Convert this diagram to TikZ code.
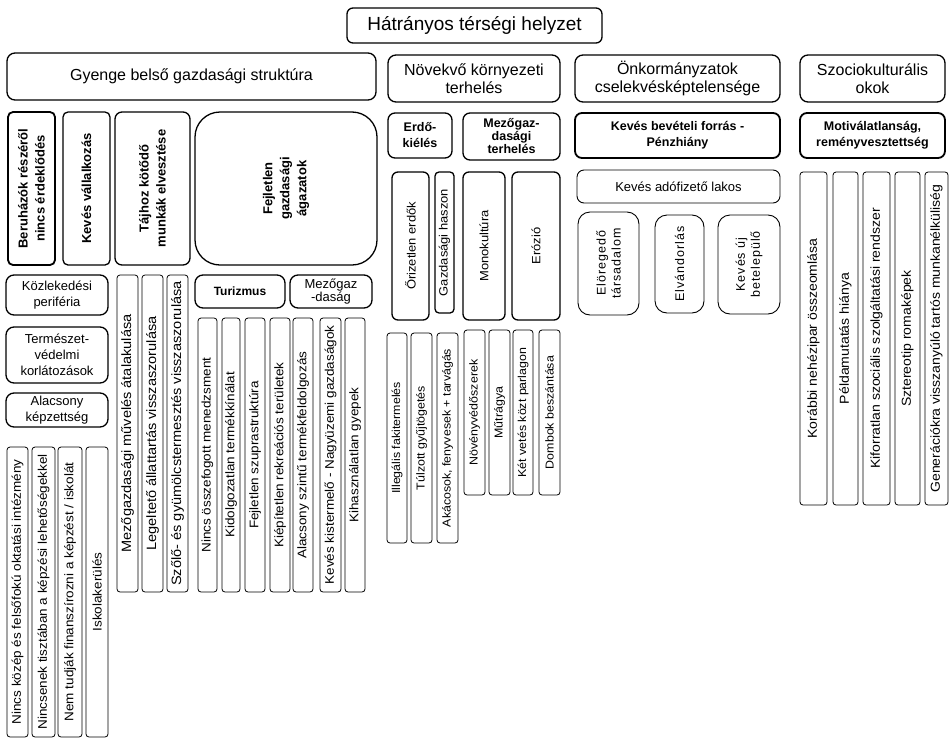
\documentclass[tikz,border=0pt]{standalone}
\usepackage{fontspec}
\setmainfont{Liberation Sans}
\newfontfamily\narrowfont[FakeStretch=1.08]{Liberation Sans}
\newfontfamily\spacedfont[LetterSpace=8]{Liberation Sans}
\usepackage{tikz}

\begin{document}
\begin{tikzpicture}[x=1pt,y=-1pt,
	titlebox/.style={draw,rounded corners=6pt,line width=1.3pt,inner sep=2pt,font=\fontsize{19}{22}\selectfont},
	headbox/.style={draw,rounded corners=8pt,line width=1.3pt,inner sep=2pt,align=center,font=\fontsize{16}{18}\selectfont},
	causebox/.style={draw,rounded corners=7pt,line width=1.8pt,inner sep=2pt,align=center,font=\fontsize{12.5}{16}\selectfont\bfseries},
	vcause/.style={causebox,rotate=90,font=\fontsize{13}{17}\selectfont\bfseries},
	sidebox/.style={draw,rounded corners=8pt,line width=1.3pt,inner sep=2pt,align=center,font=\fontsize{13}{16}\selectfont},
	midbox/.style={draw,rounded corners=6pt,line width=1.3pt,inner sep=1pt,rotate=90,font=\narrowfont\fontsize{12}{14}\selectfont},
	stripbox/.style={draw,rounded corners=3pt,line width=0.8pt,inner sep=1pt,rotate=90,font=\narrowfont\fontsize{12.5}{14}\selectfont},
	softbox/.style={draw,rounded corners=12pt,line width=0.9pt,inner sep=2pt,align=center,rotate=90,font=\spacedfont\fontsize{12.5}{15}\selectfont}]
		\useasboundingbox (0,0) rectangle (950,739);
		\node[titlebox,minimum width=255pt,minimum height=35pt] (hatranyos) at (474.5,25.5) {Hátrányos térségi helyzet};
		\node[headbox,minimum width=369pt,minimum height=47pt] (gyenge) at (191.5,76.5) {Gyenge belső gazdasági struktúra};
		\node[headbox,minimum width=172pt,minimum height=47pt] (novekvo) at (474,78.5) {Növekvő környezeti\\terhelés};
		\node[headbox,minimum width=205pt,minimum height=47pt] (onkorm) at (677.5,78.5) {Önkormányzatok\\cselekvésképtelensége};
		\node[headbox,minimum width=145pt,minimum height=47pt] (szocio) at (872.5,78.5) {Szociokulturális\\okok};

		\node[vcause,minimum width=153pt,minimum height=47pt,rounded corners=5pt] (beruhazok) at (31.5,188.5) {Beruházók részéről\\nincs érdeklődés};
		\node[vcause,minimum width=153pt,minimum height=47pt,rounded corners=5pt,line width=1.3pt] (vallalkozas) at (86.5,188.5) {Kevés vállalkozás};
		\node[vcause,minimum width=153pt,minimum height=75pt,line width=1.3pt] (tajhoz) at (152.5,188.5) {Tájhoz kötődő\\munkák elvesztése};
		\node[vcause,minimum width=153pt,minimum height=182pt,rounded corners=25pt,line width=1.3pt] (fejletlen) at (286,188.5) {Fejletlen\\gazdasági\\ágazatok};

		\node[sidebox,minimum width=102pt,minimum height=40pt] (kozlekedes) at (57,295) {Közlekedési\\periféria};
		\node[sidebox,minimum width=102pt,minimum height=56pt] (termeszet) at (57,355) {Természet-\\védelmi\\korlátozások};
		\node[sidebox,minimum width=102pt,minimum height=34pt] (alacsony) at (57,410) {Alacsony\\képzettség};
		\node[stripbox,minimum width=290pt,minimum height=21pt] (kozepfok) at (17.5,592) {Nincs közép és felsőfokú oktatási intézmény};
		\node[stripbox,minimum width=290pt,minimum height=23pt] (tisztaban) at (43.5,592) {Nincsenek tisztában a képzési lehetőségekkel};
		\node[stripbox,minimum width=290pt,minimum height=24pt] (finansz) at (70,592) {Nem tudják finanszírozni a képzést / iskolát};
		\node[stripbox,minimum width=290pt,minimum height=22pt] (iskolakerules) at (97,592) {Iskolakerülés};

		\node[stripbox,minimum width=317pt,minimum height=21pt,font=\narrowfont\fontsize{13.5}{15}\selectfont] (muveles) at (127.5,433.5) {Mezőgazdasági művelés átalakulása};
		\node[stripbox,minimum width=317pt,minimum height=21pt,font=\narrowfont\fontsize{13.5}{15}\selectfont] (legelteto) at (152.5,433.5) {Legeltető állattartás visszaszorulása};
		\node[stripbox,minimum width=317pt,minimum height=21pt,font=\narrowfont\fontsize{13.5}{15}\selectfont] (szolo) at (177.5,433.5) {Szőlő- és gyümölcstermesztés visszaszorulása};

		\node[sidebox,minimum width=90pt,minimum height=33pt,font=\fontsize{12}{14}\selectfont\bfseries] (turizmus) at (240,291.5) {Turizmus};
		\node[sidebox,minimum width=82pt,minimum height=33pt,font=\fontsize{13}{13}\selectfont] (mezogazdasag) at (331,291.5) {Mezőgaz\\-daság};
		\node[stripbox,minimum width=274pt,minimum height=19pt] (menedzsment) at (207.5,455) {Nincs összefogott menedzsment};
		\node[stripbox,minimum width=274pt,minimum height=18pt] (termekkinalat) at (231,455) {Kidolgozatlan termékkínálat};
		\node[stripbox,minimum width=274pt,minimum height=20pt] (szuprastruktura) at (255,455) {Fejletlen szuprastruktúra};
		\node[stripbox,minimum width=274pt,minimum height=20pt] (rekreacios) at (280,455) {Kiépítetlen rekreációs területek};
		\node[stripbox,minimum width=274pt,minimum height=20pt] (feldolgozas) at (303,455) {Alacsony szintű termékfeldolgozás};
		\node[stripbox,minimum width=274pt,minimum height=21pt] (kistermelo) at (330.5,455) {Kevés kistermelő - Nagyüzemi gazdaságok};
		\node[stripbox,minimum width=274pt,minimum height=20pt] (gyepek) at (355,455) {Kihasználatlan gyepek};

		\node[causebox,minimum width=64pt,minimum height=45pt,line width=1.3pt] (erdokieles) at (420,135.5) {Erdő-\\kiélés};
		\node[causebox,minimum width=97pt,minimum height=47pt,line width=1.3pt,font=\fontsize{12.5}{13}\selectfont\bfseries] (mezoterheles) at (511.5,136.5) {Mezőgaz-\\dasági\\terhelés};
		\node[midbox,minimum width=148pt,minimum height=37pt] (orizetlen) at (410.5,246) {Őrizetlen erdők};
		\node[midbox,minimum width=141pt,minimum height=19pt,rounded corners=4pt] (haszon) at (444.5,242.5) {Gazdasági haszon};
		\node[midbox,minimum width=148pt,minimum height=42pt] (monokultura) at (484,246) {Monokultúra};
		\node[midbox,minimum width=148pt,minimum height=48pt] (erozio) at (536,246) {Erózió};
		\node[stripbox,minimum width=210pt,minimum height=20pt,font=\narrowfont\fontsize{11.5}{13}\selectfont] (fakitermeles) at (397,438) {Illegális fakitermelés};
		\node[stripbox,minimum width=210pt,minimum height=21pt,font=\narrowfont\fontsize{11.5}{13}\selectfont] (gyujtogetes) at (421.5,438) {Túlzott gyűjtögetés};
		\node[stripbox,minimum width=210pt,minimum height=21pt,font=\narrowfont\fontsize{11.5}{13}\selectfont] (akacosok) at (447.5,438) {Akácosok, fenyvesek + tarvágás};
		\node[stripbox,minimum width=165pt,minimum height=21pt,font=\narrowfont\fontsize{11.5}{13}\selectfont] (novenyvedo) at (474.5,412.5) {Növényvédőszerek};
		\node[stripbox,minimum width=165pt,minimum height=21pt,font=\narrowfont\fontsize{11.5}{13}\selectfont] (mutragya) at (499.5,412.5) {Műtrágya};
		\node[stripbox,minimum width=165pt,minimum height=20pt,font=\narrowfont\fontsize{11.5}{13}\selectfont] (parlagon) at (523,412.5) {Két vetés közt parlagon};
		\node[stripbox,minimum width=165pt,minimum height=21pt,font=\narrowfont\fontsize{11.5}{13}\selectfont] (dombok) at (549.5,412.5) {Dombok beszántása};

		\node[causebox,minimum width=205pt,minimum height=45pt] (bevetel) at (677.5,135.5) {Kevés bevételi forrás -\\Pénzhiány};
		\node[sidebox,minimum width=203pt,minimum height=33pt,line width=0.9pt,rounded corners=7pt] (adofizeto) at (678.5,186.5) {Kevés adófizető lakos};
		\node[softbox,minimum width=103pt,minimum height=61pt] (eloregedo) at (608.5,263.5) {Elöregedő\\társadalom};
		\node[softbox,minimum width=98pt,minimum height=49pt] (elvandorlas) at (679.5,264) {Elvándorlás};
		\node[softbox,minimum width=99pt,minimum height=62pt] (betelepulo) at (749,264.5) {Kevés új\\betelepülő};

		\node[causebox,minimum width=145pt,minimum height=45pt] (motivalatlan) at (872.5,135.5) {Motiválatlanság,\\reményvesztettség};
		\node[stripbox,minimum width=333pt,minimum height=27pt,font=\narrowfont\fontsize{13}{15}\selectfont] (nehezipar) at (813.5,338.5) {Korábbi nehézipar összeomlása};
		\node[stripbox,minimum width=333pt,minimum height=25pt,font=\narrowfont\fontsize{13}{15}\selectfont] (peldamutatas) at (845.5,338.5) {Példamutatás hiánya};
		\node[stripbox,minimum width=333pt,minimum height=27pt,font=\narrowfont\fontsize{13}{15}\selectfont] (szocialis) at (876.5,338.5) {Kiforratlan szociális szolgáltatási rendszer};
		\node[stripbox,minimum width=333pt,minimum height=25pt,font=\narrowfont\fontsize{13}{15}\selectfont] (romakepek) at (907.5,338.5) {Sztereotip romaképek};
		\node[stripbox,minimum width=333pt,minimum height=23pt,font=\narrowfont\fontsize{13}{15}\selectfont] (munkanelkuliseg) at (936.5,338.5) {Generációkra visszanyúló tartós munkanélküliség};
\end{tikzpicture}
\end{document}
